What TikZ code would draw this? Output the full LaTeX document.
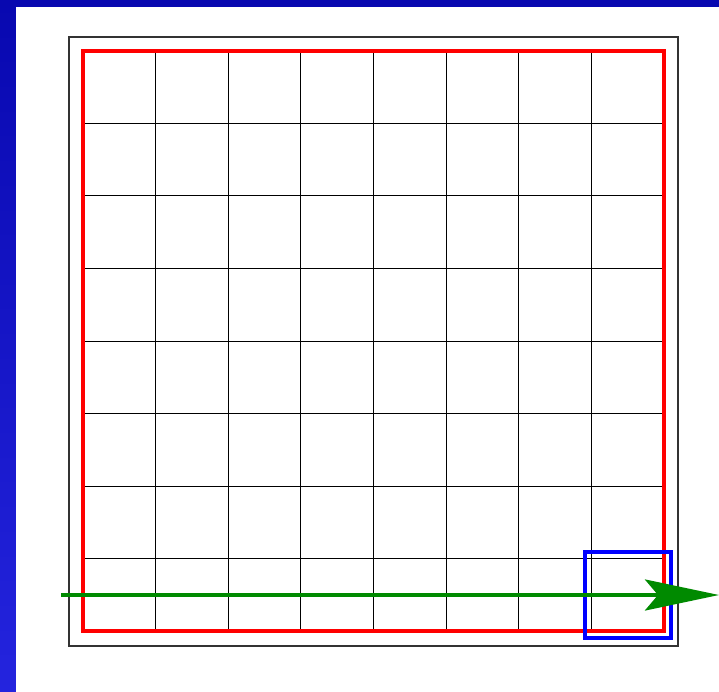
\documentclass[tikz,border=0pt]{standalone}
\usetikzlibrary{arrows.meta}
\definecolor{bgtop}{RGB}{8,8,176}
\definecolor{bgbot}{RGB}{36,36,222}
\definecolor{arrowgreen}{RGB}{0,138,0}
\tikzset{
  outerbox/.style={draw=black!80, line width=1.3pt},
  gridline/.style={draw=black, line width=1pt},
  redbox/.style={draw=red, line width=4pt},
  bluebox/.style={draw=blue, line width=4pt},
  greenarrow/.style={draw=arrowgreen, line width=4pt, -{Stealth[length=74pt, width=31pt, inset=13pt]}}
}
\begin{document}
\begin{tikzpicture}[x=1pt,y=-1pt]
\useasboundingbox (0,0) rectangle (719,692);
\shade[top color=bgtop, bottom color=bgbot] (0,0) rectangle (719,692);
\fill[white] (16,7) rectangle (719,692);
\draw[outerbox] (69,37) rectangle (678,646);
\foreach \i in {1,...,7} {
  \draw[gridline] ({83+72.625*\i},51) -- ({83+72.625*\i},631);
  \draw[gridline] (83,{51+72.5*\i}) -- (664,{51+72.5*\i});
}
\draw[redbox] (83,51) rectangle (664,631);
\draw[bluebox] (585,552) rectangle (671,638);
\coordinate (start) at (61,595);
\coordinate (tip) at (719,595);
\draw[greenarrow] (start) -- (tip);
\end{tikzpicture}
\end{document}
